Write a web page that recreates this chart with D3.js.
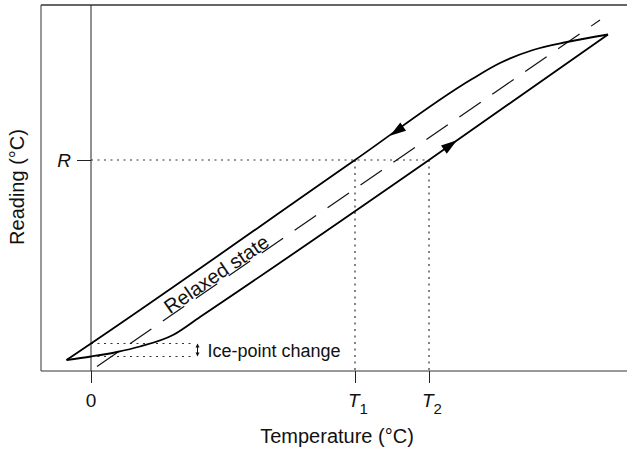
<!DOCTYPE html>
<html lang="en">
<head>
<meta charset="UTF-8">
<title>Hysteresis of a thermometer</title>
<script src="https://d3js.org/d3.v7.min.js"></script>
<style>
  body { margin: 0; background: #fff; }
  text { font-family: 'Liberation Sans', Arial, Helvetica, sans-serif; fill: #111; }
</style>
</head>
<body>
<div id="chart"></div>
<script>
// curve points, [temperature, reading] in arbitrary units
var heating = [[-0.49, -0.07], [0, 0], [0.52, 0.09], [0.98, 0.20], [1.64, 0.43], [2.18, 0.79], [6.76, 3.93], [10.34, 6.44]];
var cooling = [[-0.49, -0.07], [0, 0.26], [5.28, 3.93], [7.62, 5.55], [8.18, 5.87], [8.84, 6.13], [9.52, 6.29], [10.34, 6.44]];
var relaxed = [[0.12, -0.2], [10.18, 6.73]];

var xTicks = [0, 5.28, 6.76];
var xTickLabels = [["0", ""], ["T", "1"], ["T", "2"]];
var readingR = 3.93;
var iceLevels = [0, 0.26];
var iceEnd = 2.08;
var arrowMarks = [{ series: "cooling", x: 5.98, dir: -1 }, { series: "heating", x: 7.32, dir: 1 }];

var width = 627, height = 452;
var margin = { top: 5, left: 41, bottom: 81 };

var svg = d3.select("#chart").append("svg")
    .attr("width", width)
    .attr("height", height);

var x = d3.scaleLinear().domain([-1, 10.72]).range([margin.left, width]);
var y = d3.scaleLinear().domain([-0.29, 7.03]).range([height - margin.bottom, margin.top]);

// frame (right side runs off the picture)
var frame = svg.append("g").attr("stroke", "#333").attr("fill", "none");
frame.append("line").attr("x1", x(-1)).attr("x2", width).attr("y1", y(7.03)).attr("y2", y(7.03)).attr("stroke-width", 1.5);
frame.append("line").attr("x1", x(-1)).attr("x2", x(-1)).attr("y1", y(7.03)).attr("y2", y(-0.29));
frame.append("line").attr("x1", x(-1)).attr("x2", width).attr("y1", y(-0.29)).attr("y2", y(-0.29));

// zero line
svg.append("line")
    .attr("x1", x(0)).attr("x2", x(0))
    .attr("y1", y(7.03)).attr("y2", y(-0.29))
    .attr("stroke", "#222");

// x ticks
var xAxis = svg.append("g")
    .attr("transform", "translate(0," + y(-0.29) + ")")
    .call(d3.axisBottom(x).tickValues(xTicks).tickSize(12).tickFormat(""));
xAxis.select(".domain").remove();
xAxis.selectAll(".tick line").attr("stroke", "#222");

xTicks.forEach(function(v, i) {
  var lab = xTickLabels[i];
  var t = svg.append("text").attr("y", 407).style("font-size", "19px");
  if (lab[1] === "") {
    t.attr("x", x(v)).attr("text-anchor", "middle").text(lab[0]);
  } else {
    t.attr("x", x(v) - 7);
    t.append("tspan").style("font-style", "italic").text(lab[0]);
    t.append("tspan").attr("dy", 7).style("font-size", "15px").text(lab[1]);
  }
});

// R tick on the zero line
var yAxis = svg.append("g")
    .attr("transform", "translate(" + x(0) + ",0)")
    .call(d3.axisLeft(y).tickValues([readingR]).tickSize(14).tickFormat(""));
yAxis.select(".domain").remove();
yAxis.selectAll(".tick line").attr("stroke", "#222");
svg.append("text")
    .attr("x", x(0) - 20).attr("y", y(readingR) + 7)
    .attr("text-anchor", "end")
    .style("font-size", "19px").style("font-style", "italic")
    .text("R");

// dotted guides
var dotted = svg.append("g").attr("stroke", "#333").attr("stroke-width", 1.2).attr("stroke-dasharray", "2,4.5");
dotted.append("line").attr("x1", x(0)).attr("x2", x(xTicks[2])).attr("y1", y(readingR)).attr("y2", y(readingR));
[xTicks[1], xTicks[2]].forEach(function(v) {
  dotted.append("line").attr("x1", x(v)).attr("x2", x(v)).attr("y1", y(readingR)).attr("y2", y(-0.29));
});
iceLevels.forEach(function(v) {
  dotted.append("line").attr("x1", x(0)).attr("x2", x(iceEnd)).attr("y1", y(v)).attr("y2", y(v));
});

// relaxed state dashed line
var line = d3.line().x(function(d) { return x(d[0]); }).y(function(d) { return y(d[1]); });
svg.append("path")
    .attr("d", line(relaxed))
    .attr("fill", "none").attr("stroke", "#111")
    .attr("stroke-width", 1.2).attr("stroke-dasharray", "26,14");

// hysteresis curves
var curve = d3.line().curve(d3.curveMonotoneX)
    .x(function(d) { return x(d[0]); }).y(function(d) { return y(d[1]); });
[heating, cooling].forEach(function(s) {
  svg.append("path").attr("d", curve(s))
      .attr("fill", "none").attr("stroke", "#000").attr("stroke-width", 1.8);
});

// direction arrows
function yAt(s, xv) {
  for (var i = 1; i < s.length; i++) {
    if (xv <= s[i][0]) {
      var t = (xv - s[i - 1][0]) / (s[i][0] - s[i - 1][0]);
      return { y: s[i - 1][1] + t * (s[i][1] - s[i - 1][1]), a: s[i - 1], b: s[i] };
    }
  }
}
arrowMarks.forEach(function(m) {
  var s = m.series === "cooling" ? cooling : heating;
  var p = yAt(s, m.x);
  var ang = Math.atan2(y(p.b[1]) - y(p.a[1]), x(p.b[0]) - x(p.a[0]));
  if (m.dir < 0) ang += Math.PI;
  var deg = ang * 180 / Math.PI;
  svg.append("path")
      .attr("d", "M0,0L-16,-5L-16,5Z")
      .attr("fill", "#000")
      .attr("transform", "translate(" + x(m.x) + "," + y(p.y) + ") rotate(" + deg + ")");
});

// ice-point change marker
var ax = x(iceEnd) + 2.5;
svg.append("line").attr("x1", ax).attr("x2", ax).attr("y1", y(iceLevels[1]) + 1).attr("y2", y(iceLevels[0]) - 1)
    .attr("stroke", "#111").attr("stroke-width", 1);
svg.append("path").attr("d", "M" + ax + "," + y(iceLevels[1]) + "l-2,4h4z").attr("fill", "#111");
svg.append("path").attr("d", "M" + ax + "," + y(iceLevels[0]) + "l-2,-4h4z").attr("fill", "#111");
svg.append("text")
    .attr("x", ax + 10).attr("y", (y(iceLevels[0]) + y(iceLevels[1])) / 2 + 6.5)
    .style("font-size", "18px")
    .text("Ice-point change");

// label along the relaxed line
var rx = 1.54;
var ry = relaxed[0][1] + (rx - relaxed[0][0]) * (relaxed[1][1] - relaxed[0][1]) / (relaxed[1][0] - relaxed[0][0]);
var rAng = Math.atan2(y(relaxed[1][1]) - y(relaxed[0][1]), x(relaxed[1][0]) - x(relaxed[0][0])) * 180 / Math.PI;
svg.append("text")
    .attr("transform", "translate(" + (x(rx) + 2) + "," + (y(ry) - 3) + ") rotate(" + rAng + ")")
    .style("font-size", "20px")
    .text("Relaxed state");

// axis titles
svg.append("text")
    .attr("x", 337).attr("y", 443)
    .attr("text-anchor", "middle")
    .style("font-size", "20px")
    .text("Temperature (°C)");
svg.append("text")
    .attr("transform", "translate(24," + 187 + ") rotate(-90)")
    .attr("text-anchor", "middle")
    .style("font-size", "20px")
    .text("Reading (°C)");
</script>
</body>
</html>
